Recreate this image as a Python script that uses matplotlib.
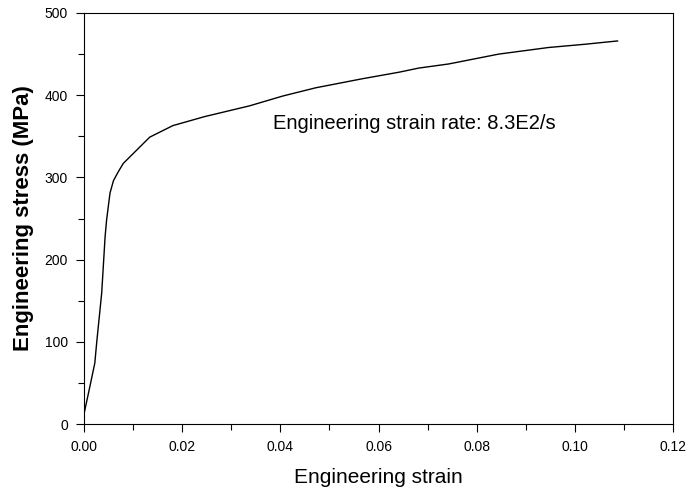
import matplotlib
matplotlib.use("Agg")
import matplotlib.pyplot as plt
from matplotlib.ticker import MultipleLocator

plt.rcParams['font.family'] = ['Liberation Sans', 'DejaVu Sans']

# values
strain = [0.0001, 0.0010, 0.0022, 0.0026, 0.0036, 0.0043, 0.0046, 0.0053, 0.0060,
          0.0070, 0.0080, 0.0107, 0.0134, 0.0181, 0.0246, 0.0337, 0.0405, 0.0472,
          0.0567, 0.0642, 0.0682, 0.0743, 0.0845, 0.0946, 0.1021, 0.1087]
stress = [15, 40, 74, 100, 159, 228, 248, 281, 296,
          307, 317, 333, 349, 363, 374, 387, 399, 409,
          420, 428, 433, 438, 450, 458, 462, 466]

note = "Engineering strain rate: 8.3E2/s"

fig = plt.figure(figsize=(6.91, 4.92), dpi=100)
ax = fig.add_axes([84/691, 68/492, 589/691, 411/492])

ax.plot(strain, stress, color='k', lw=1)
ax.text(0.0385, 366, note, fontsize=14.5, va='center', ha='left')

ax.set_xlim(0, 0.12)
ax.set_ylim(0, 500)
ax.xaxis.set_major_locator(MultipleLocator(0.02))
ax.xaxis.set_minor_locator(MultipleLocator(0.01))
ax.yaxis.set_major_locator(MultipleLocator(100))
ax.yaxis.set_minor_locator(MultipleLocator(50))
ax.xaxis.set_major_formatter(plt.FuncFormatter(lambda v, p: f'{v:.2f}'))
ax.tick_params(which='major', direction='out', length=5.5, width=0.8, labelsize=10,
               pad=6, top=False, right=False)
ax.tick_params(which='minor', direction='out', length=4, width=0.8, top=False, right=False)

ax.set_xlabel("Engineering strain", fontsize=15, labelpad=10)
ax.set_ylabel("Engineering stress (MPa)", fontsize=16, fontweight='bold', labelpad=8)

fig.savefig("out.png", dpi=100)
